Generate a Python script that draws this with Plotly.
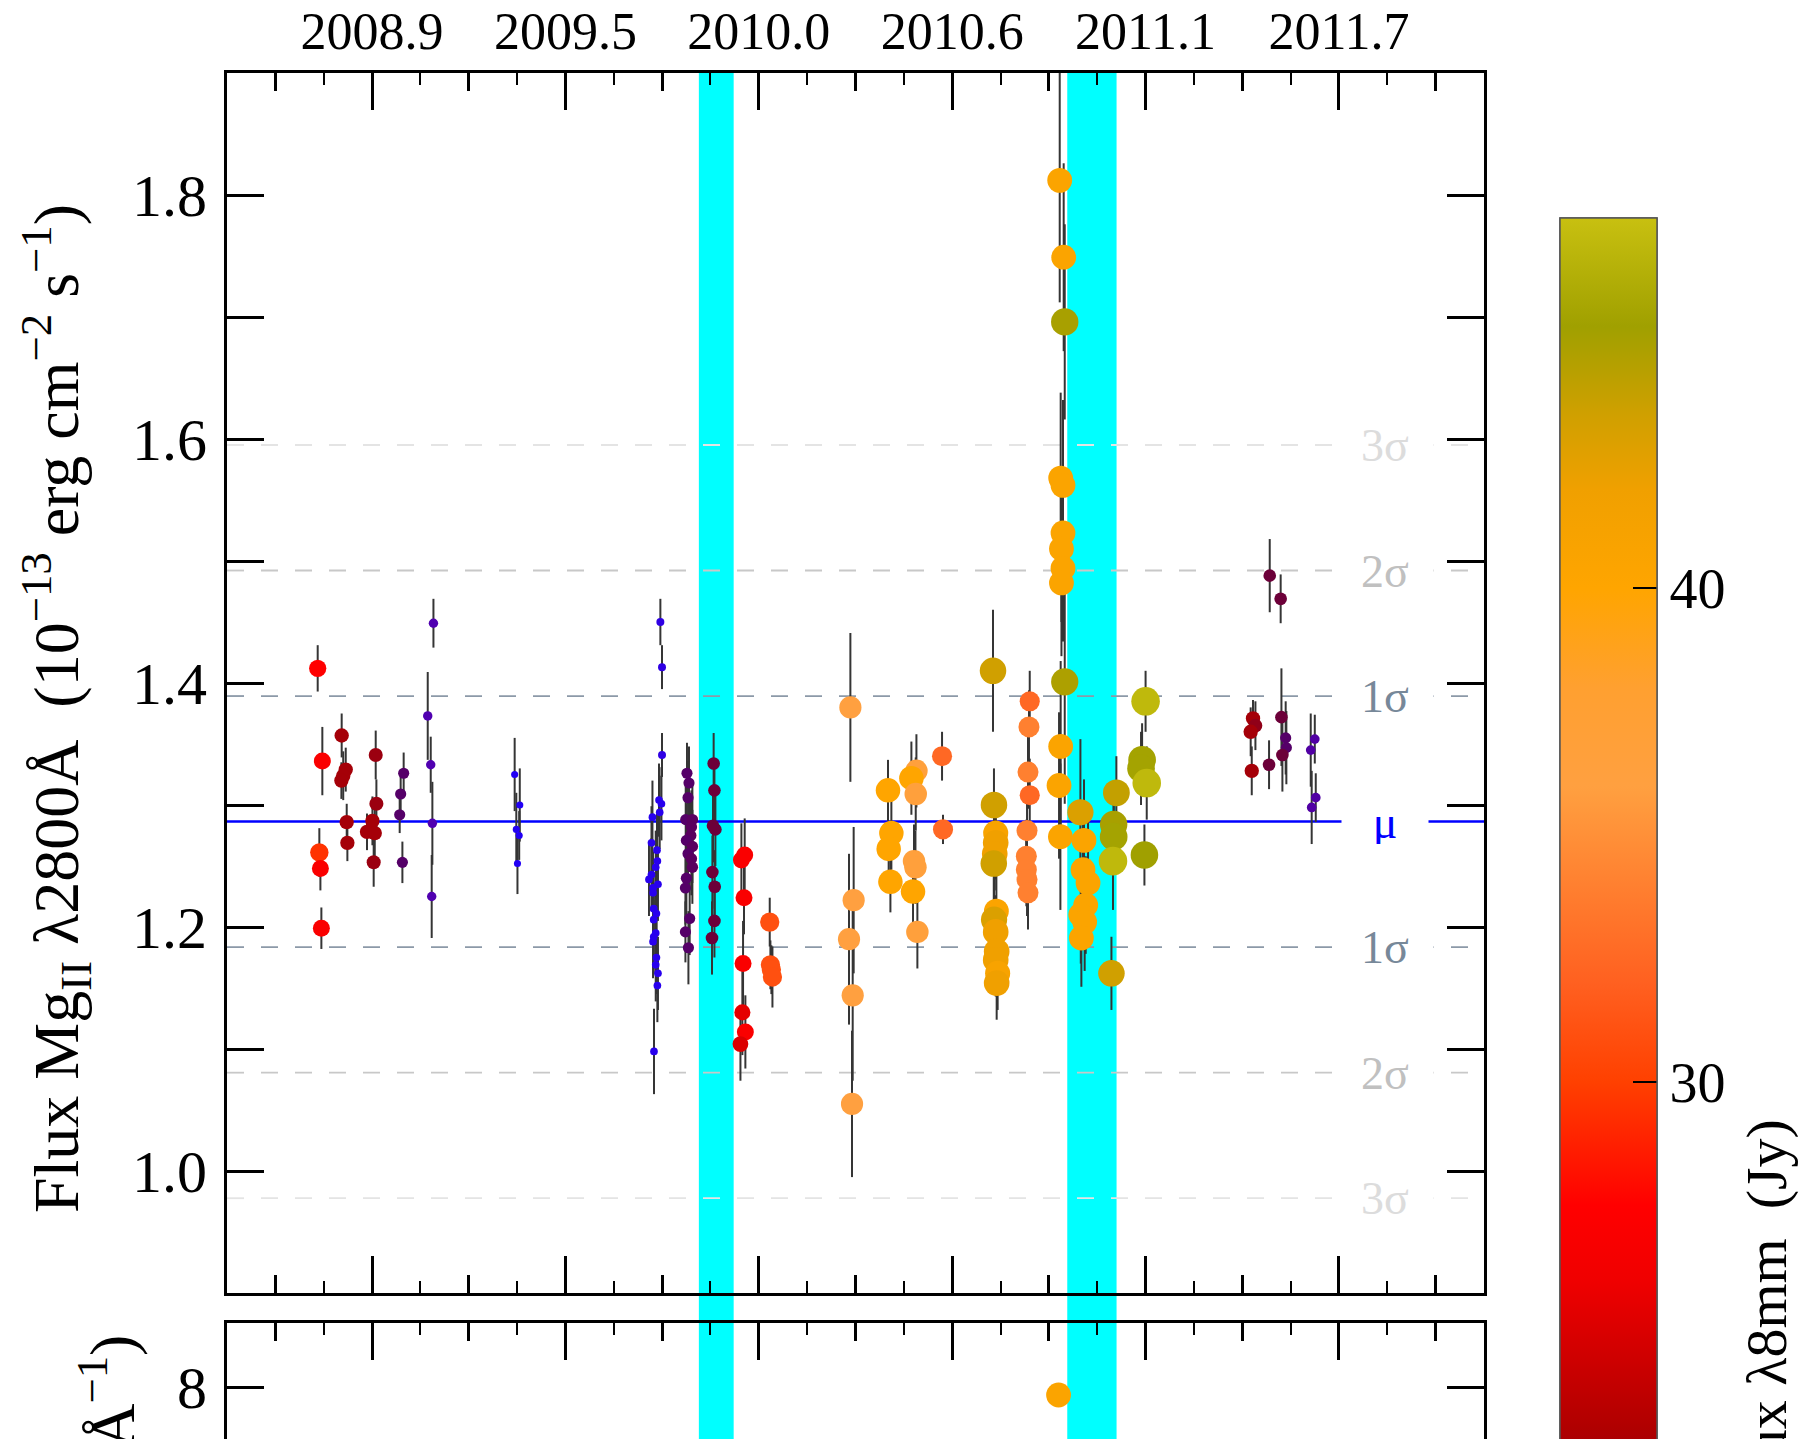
import plotly.graph_objects as go

SERIF = "Liberation Serif"

# ---------------------------------------------------------------- data
# Epoch of each spectrum, days after JD 2454000
t_days = [
    743.8, 748.6, 745.5, 746.6, 747.6,
    768.6, 772.8, 770.2, 768.3, 773.8, 774.5,
    803.8, 804.5, 800.4, 794.8, 802.8, 801.7,
    832.7, 829.6, 828.6, 831.4,
    863.5, 857.6, 860.7, 862.4, 861.7,
    947.5, 952.8, 949.2, 952.2, 950.4,
    1098.2, 1099.9, 1099.9, 1096.8, 1099.3, 1097.5, 1090.0, 1089.0, 1094.7,
    1095.1, 1093.4, 1089.0, 1086.4, 1095.7, 1090.6, 1090.6, 1091.3, 1094.1,
    1091.3, 1093.4, 1091.3, 1090.6, 1094.1, 1093.4, 1095.7, 1095.1, 1091.6,
    1125.7, 1127.8, 1126.8, 1124.4, 1131.3, 1130.3, 1129.6, 1125.1, 1131.3,
    1126.8, 1130.3, 1131.3, 1125.1, 1124.1, 1128.5, 1124.1, 1127.2,
    1153.3, 1154.1, 1152.6, 1155.1, 1152.0, 1154.4, 1154.1, 1151.6,
    1185.4, 1182.0, 1184.7, 1183.7, 1183.0, 1186.1, 1181.0,
    1211.3, 1212.0, 1213.0, 1214.1,
    1294.7, 1298.1, 1293.3, 1297.1, 1296.4,
    1333.6, 1337.1, 1334.3, 1336.1,
    1363.0, 1357.8, 1362.3, 1360.5, 1362.0, 1359.5, 1364.0,
    1389.5, 1390.5,
    1442.2, 1443.2, 1445.0, 1445.0, 1444.0, 1443.0, 1445.7, 1443.3, 1445.0,
    1446.0, 1445.0, 1447.0, 1446.0,
    1480.2, 1479.4, 1478.4, 1480.2, 1477.4, 1476.7, 1476.7, 1477.4, 1478.4,
    1511.2, 1515.3, 1516.4, 1512.2, 1514.6, 1514.6, 1513.0, 1514.6, 1513.0,
    1516.4, 1512.2, 1510.5, 1511.9,
    1532.6, 1536.3, 1535.3, 1540.5, 1538.1, 1533.0, 1537.0, 1533.6,
    1569.8, 1567.0, 1567.0, 1566.3, 1564.7,
    1600.0, 1596.4, 1595.3, 1601.2, 1598.8,
    1728.4, 1739.7, 1711.1, 1713.6, 1708.7, 1709.8, 1740.5, 1744.9, 1745.6,
    1741.5, 1727.7, 1775.0, 1770.8, 1776.0, 1771.8,
]

# Mg II 2800 line flux, 1e-13 erg cm^-2 s^-1
mg_flux = [
    1.412, 1.336, 1.261, 1.248, 1.199,
    1.357, 1.329, 1.324, 1.320, 1.286, 1.269,
    1.341, 1.301, 1.287, 1.278, 1.277, 1.253,
    1.326, 1.309, 1.292, 1.253,
    1.449, 1.373, 1.333, 1.285, 1.225,
    1.325, 1.300, 1.280, 1.275, 1.252,
    1.450, 1.413, 1.341, 1.304, 1.301, 1.294, 1.290, 1.269, 1.263,
    1.254, 1.249, 1.243, 1.239, 1.235, 1.232, 1.228, 1.215, 1.211,
    1.206, 1.195, 1.192, 1.188, 1.175, 1.169, 1.162, 1.152, 1.098,
    1.326, 1.318, 1.306, 1.288, 1.288, 1.282, 1.275, 1.271, 1.266,
    1.260, 1.256, 1.249, 1.240, 1.232, 1.207, 1.196, 1.183,
    1.334, 1.312, 1.283, 1.280, 1.245, 1.233, 1.205, 1.191,
    1.259, 1.255, 1.224, 1.170, 1.130, 1.114, 1.104,
    1.204, 1.169, 1.165, 1.159,
    1.380, 1.222, 1.190, 1.144, 1.055,
    1.312, 1.277, 1.264, 1.237,
    1.328, 1.322, 1.309, 1.254, 1.249, 1.229, 1.196,
    1.340, 1.280,
    1.410, 1.300, 1.277, 1.269, 1.260, 1.252, 1.213, 1.206, 1.196,
    1.180, 1.173, 1.162, 1.154,
    1.385, 1.364, 1.327, 1.308, 1.279, 1.258, 1.247, 1.239, 1.228,
    1.812, 1.749, 1.696, 1.568, 1.562, 1.523, 1.510, 1.494, 1.482,
    1.401, 1.348, 1.316, 1.274,
    1.294, 1.271, 1.247, 1.236, 1.218, 1.210, 1.204, 1.191,
    1.310, 1.284, 1.274, 1.254, 1.162,
    1.385, 1.337, 1.330, 1.318, 1.259,
    1.488, 1.469, 1.371, 1.365, 1.360, 1.328, 1.372, 1.355, 1.347,
    1.341, 1.333, 1.354, 1.345, 1.306, 1.298,
]

# 1-sigma uncertainty on the line flux
mg_err = [
    0.019, 0.028, 0.020, 0.018, 0.017,
    0.018, 0.018, 0.020, 0.015, 0.015, 0.015,
    0.020, 0.020, 0.020, 0.015, 0.020, 0.020,
    0.017, 0.015, 0.015, 0.017,
    0.020, 0.036, 0.023, 0.034, 0.034,
    0.030, 0.030, 0.030, 0.020, 0.025,
    0.019, 0.018, 0.018, 0.030, 0.030, 0.030, 0.030, 0.030, 0.030,
    0.030, 0.030, 0.030, 0.030, 0.030, 0.030, 0.030, 0.030, 0.030,
    0.030, 0.030, 0.030, 0.030, 0.030, 0.030, 0.030, 0.030, 0.035,
    0.025, 0.030, 0.030, 0.030, 0.030, 0.030, 0.030, 0.030, 0.030,
    0.030, 0.030, 0.030, 0.030, 0.030, 0.030, 0.025, 0.030,
    0.025, 0.025, 0.030, 0.030, 0.030, 0.030, 0.030, 0.030,
    0.030, 0.030, 0.030, 0.035, 0.035, 0.030, 0.030,
    0.020, 0.020, 0.020, 0.025,
    0.061, 0.060, 0.070, 0.070, 0.060,
    0.025, 0.030, 0.020, 0.025,
    0.030, 0.030, 0.030, 0.030, 0.030, 0.030, 0.030,
    0.020, 0.012,
    0.050, 0.030, 0.030, 0.030, 0.030, 0.030, 0.030, 0.030, 0.030,
    0.030, 0.030, 0.030, 0.030,
    0.025, 0.030, 0.030, 0.030, 0.030, 0.030, 0.030, 0.030, 0.030,
    0.100, 0.077, 0.080, 0.070, 0.070, 0.060, 0.060, 0.060, 0.060,
    0.100, 0.070, 0.060, 0.060,
    0.060, 0.050, 0.050, 0.050, 0.040, 0.040, 0.040, 0.040,
    0.030, 0.030, 0.030, 0.040, 0.030,
    0.025, 0.030, 0.030, 0.030, 0.025,
    0.030, 0.020, 0.015, 0.020, 0.020, 0.020, 0.040, 0.030, 0.030,
    0.030, 0.020, 0.020, 0.030, 0.020, 0.030,
]

# Simultaneous 8 mm (37 GHz) radio flux density, Jy
radio_jy = [
    27.5, 27.0, 29.5, 27.0, 27.0,
    22.5, 22.5, 22.5, 22.5, 22.5, 22.5,
    22.0, 22.0, 22.5, 22.5, 22.5, 22.0,
    17.0, 17.0, 17.0, 17.0,
    14.0, 14.0, 14.0, 14.0, 14.0,
    10.0, 10.0, 10.0, 10.0, 10.0,
    11.5, 11.5, 11.5, 11.0, 11.0, 11.0, 11.0, 11.0, 11.0,
    11.0, 11.0, 11.0, 11.0, 11.0, 11.0, 11.0, 11.0, 11.0,
    11.0, 11.0, 11.0, 11.0, 11.0, 11.0, 11.0, 11.0, 11.0,
    17.0, 17.0, 17.0, 17.0, 17.5, 17.5, 17.5, 17.0, 17.5,
    17.0, 17.5, 17.5, 17.0, 17.0, 17.0, 17.0, 17.0,
    19.5, 19.5, 19.5, 19.5, 19.5, 19.5, 19.5, 19.5,
    27.0, 27.0, 27.0, 27.0, 25.5, 27.0, 25.0,
    31.0, 31.0, 31.0, 31.0,
    36.0, 36.0, 36.0, 36.0, 36.0,
    40.0, 40.0, 40.0, 40.0,
    36.5, 40.0, 36.5, 36.5, 36.5, 40.0, 36.5,
    32.5, 32.5,
    43.5, 43.5, 41.0, 42.0, 42.0, 43.5, 40.5, 43.0, 42.0,
    42.0, 42.0, 41.0, 42.0,
    32.5, 34.0, 34.0, 32.5, 34.0, 34.0, 34.0, 34.0, 34.0,
    40.5, 40.5, 45.0, 40.5, 40.5, 40.5, 40.5, 40.5, 40.5,
    44.8, 40.5, 40.5, 40.5,
    43.0, 40.5, 40.5, 40.5, 40.5, 40.5, 40.5, 40.5,
    44.0, 45.0, 45.5, 47.0, 43.5,
    47.0, 45.5, 45.5, 47.0, 45.3,
    19.5, 19.5, 22.5, 21.5, 22.5, 22.5, 19.5, 17.0, 17.0,
    19.5, 19.5, 14.5, 14.5, 14.5, 14.5,
]

# Continuum flux density (lower panel)
cont_days = [1510.0]
cont_flux = [7.92]
cont_radio_jy = [40.5]

# Top axis: day ticks and their calendar-year labels
tick_days = [800, 1000, 1200, 1400, 1600, 1800]
tick_years = ["2008.9", "2009.5", "2010.0", "2010.6", "2011.1", "2011.7"]

# Gamma-ray flare windows (days)
flare_windows = [[1138, 1174], [1519, 1570]]

# Mean and dispersion of the Mg II light curve
mg_mean = 1.2864
mg_sigma = 0.1029

# ---------------------------------------------------------------- geometry
W, H = 1804, 1439
ML, MR, MT, MB = 227, 320, 73, 0
PW, PH = W - ML - MR, H - MT - MB
X_RANGE = [650, 1950]
Y_RANGE = [0.9, 1.9]
CONT_RANGE = [7.48, 8.64]
CMIN, CMAX = 8.0, 47.5
CB_PX_PER_JY = 49.4


def paper_x(pix):
    return (pix - ML) / PW


def paper_y(pix):
    return (H - MB - pix) / PH


# colour scale for the radio flux (Jy -> colour)
jy_stops = [8, 11, 14, 17, 20, 23, 26, 27.5, 30, 32, 34, 36, 38, 40, 42, 43.5, 45.3, 47.5]
stop_colors = ["#1500FF", "#2800EE", "#5000B0", "#550068", "#700030", "#B00000",
               "#F00000", "#FF0000", "#FF4000", "#FF6020", "#FF8030", "#FFA040",
               "#FFA030", "#FFA500", "#F0A000", "#D0A000", "#A0A000", "#C8C010"]
colorscale = [[(v - CMIN) / (CMAX - CMIN), c] for v, c in zip(jy_stops, stop_colors)]


def marker_size(jy):
    return 0.58 * jy + 1.3


cb_common = dict(
    x=paper_x(1560), xanchor="left", xpad=0,
    y=paper_y(218), yanchor="top", ypad=0,
    lenmode="pixels", len=(CMAX - CMIN) * CB_PX_PER_JY,
    thicknessmode="pixels", thickness=97,
    outlinewidth=1.5, outlinecolor="#555555",
    ticks="inside", tickwidth=2, tickcolor="black", tickmode="array",
)

fig = go.Figure()

# sigma bands around the mean
band_styles = {1: ("#8C99A8", "#778899"), 2: ("#C8C8C8", "#C0C0C0"), 3: ("#E4E4E4", "#DCDCDC")}
for k in [3, 2, 1, -1, -2, -3]:
    line_col, _ = band_styles[abs(k)]
    fig.add_trace(go.Scatter(
        x=X_RANGE, y=[mg_mean + k * mg_sigma] * 2, mode="lines",
        line=dict(color=line_col, width=1.8, dash="17px,17px"),
        hoverinfo="skip", showlegend=False, xaxis="x", yaxis="y"))

fig.add_trace(go.Scatter(
    x=X_RANGE, y=[mg_mean] * 2, mode="lines",
    line=dict(color="#0000FF", width=2.5),
    hoverinfo="skip", showlegend=False, xaxis="x", yaxis="y"))

# carriers for the intermediate x tick sets; the first also holds the
# colour bar's half-decade ticks (drawn beneath the labelled bar)
fig.add_trace(go.Scatter(
    x=[tick_days[0]], y=[mg_mean], mode="markers",
    marker=dict(color=[radio_jy[0]], colorscale=colorscale, cmin=CMIN, cmax=CMAX,
                opacity=0, showscale=True,
                colorbar=dict(**cb_common, tickvals=[25, 35, 45], ticklen=12,
                              showticklabels=False)),
    hoverinfo="skip", showlegend=False, xaxis="x3", yaxis="y"))
fig.add_trace(go.Scatter(x=[tick_days[0]], y=[cont_flux[0]], mode="markers",
                         marker=dict(opacity=0), hoverinfo="skip", showlegend=False,
                         xaxis="x4", yaxis="y2"))

# Mg II light curve coloured and sized by radio flux
fig.add_trace(go.Scatter(
    x=t_days, y=mg_flux, mode="markers",
    error_y=dict(type="data", array=mg_err, color="#353535", thickness=2, width=0),
    marker=dict(
        color=radio_jy, colorscale=colorscale, cmin=CMIN, cmax=CMAX,
        size=[marker_size(v) for v in radio_jy], line=dict(width=0), opacity=1,
        colorbar=dict(**cb_common, tickvals=[30, 40], ticklen=24,
                      tickfont=dict(family=SERIF, size=56, color="black")),
    ),
    hoverinfo="skip", showlegend=False, xaxis="x", yaxis="y"))

# continuum panel
fig.add_trace(go.Scatter(
    x=cont_days, y=cont_flux, mode="markers",
    marker=dict(color=cont_radio_jy, colorscale=colorscale, cmin=CMIN, cmax=CMAX,
                size=[marker_size(v) for v in cont_radio_jy], line=dict(width=0),
                opacity=1, showscale=False),
    hoverinfo="skip", showlegend=False, xaxis="x2", yaxis="y2"))

# tick sets: long at labelled days, medium halfway, short at quarters
mid_days = [d - 100 for d in tick_days] + [tick_days[-1] + 100]
quarter_days = [d for d in range(X_RANGE[0], X_RANGE[1] + 1, 50)
                if d not in tick_days and d not in mid_days]

axis_font = dict(family=SERIF, size=60, color="black")

base_x = dict(range=X_RANGE, showgrid=False, zeroline=False, ticks="inside",
              tickcolor="black", tickmode="array")

fig.update_layout(
    width=W, height=H,
    margin=dict(l=ML, r=MR, t=MT, b=MB, autoexpand=False),
    paper_bgcolor="white", plot_bgcolor="white",
    font=dict(family=SERIF, color="black"),
    xaxis=dict(**base_x, domain=[0, 1], anchor="y", side="top",
               tickvals=tick_days, ticktext=tick_years, ticklen=37, tickwidth=2.5,
               showline=True, linewidth=3, linecolor="black", mirror="allticks",
               tickfont=dict(family=SERIF, size=52, color="black"),
               ticklabelstandoff=0,
               minor=dict(tickmode="array", tickvals=quarter_days, ticks="inside",
                          ticklen=12, tickwidth=1.5, tickcolor="black")),
    xaxis3=dict(**base_x, overlaying="x", anchor="y", side="top",
                tickvals=mid_days, ticklen=18, tickwidth=2.5,
                showline=False, mirror="ticks", showticklabels=False),
    yaxis=dict(domain=[paper_y(1293), 1], range=Y_RANGE, showgrid=False, zeroline=False,
               ticks="inside", tickmode="array", tickvals=[1.0, 1.2, 1.4, 1.6, 1.8],
               tickformat=".1f", ticklen=37, tickwidth=2.5, tickcolor="black",
               showline=True, linewidth=3, linecolor="black", mirror="allticks",
               tickfont=axis_font, ticklabelstandoff=5,
               minor=dict(tickmode="array", tickvals=[1.1, 1.3, 1.5, 1.7], ticks="inside",
                          ticklen=19, tickwidth=2.5, tickcolor="black")),
    xaxis2=dict(**base_x, domain=[0, 1], anchor="y2", side="top",
                tickvals=tick_days, ticklen=37, tickwidth=2.5,
                showline=True, linewidth=3, linecolor="black", mirror=False,
                showticklabels=False,
                minor=dict(tickmode="array", tickvals=quarter_days, ticks="inside",
                           ticklen=12, tickwidth=1.5, tickcolor="black")),
    xaxis4=dict(**base_x, overlaying="x2", anchor="y2", side="top",
                tickvals=mid_days, ticklen=18, tickwidth=2.5,
                showline=False, showticklabels=False),
    yaxis2=dict(domain=[0, paper_y(1323)], range=CONT_RANGE, showgrid=False, zeroline=False,
                ticks="inside", tickmode="array", tickvals=[8], ticklen=37, tickwidth=2.5,
                tickcolor="black", showline=True, linewidth=3, linecolor="black",
                mirror="ticks", tickfont=axis_font, ticklabelstandoff=5),
)

# flare windows spanning both panels
for a, b in flare_windows:
    fig.add_shape(type="rect", xref="x", yref="paper", x0=a, x1=b, y0=0, y1=1,
                  fillcolor="#00FFFF", line=dict(width=0), layer="below")

# sigma / mean labels on the right
label_day = X_RANGE[0] + (1385 - ML) / PW * (X_RANGE[1] - X_RANGE[0])
for k in [3, 2, 1, -1, -2, -3]:
    _, txt_col = band_styles[abs(k)]
    fig.add_annotation(x=label_day, y=mg_mean + k * mg_sigma, xref="x", yref="y",
                       text=f"{abs(k)}σ", showarrow=False, bgcolor="white",
                       width=96, height=44, borderpad=0, align="center",
                       font=dict(family=SERIF, size=46, color=txt_col))
fig.add_annotation(x=label_day, y=mg_mean, xref="x", yref="y", text="μ",
                   showarrow=False, bgcolor="white", width=86, height=44, borderpad=0,
                   font=dict(family=SERIF, size=46, color="#0000FF"))

# axis titles
nb = "\u00a0"
fig.add_annotation(
    x=paper_x(56), y=paper_y(709), xref="paper", yref="paper",
    xanchor="center", yanchor="middle", textangle=-90, showarrow=False,
    text=f"Flux Mg<sub>II</sub> λ2800Å{nb}{nb}(10<sup>−13</sup> erg cm<sup>−2</sup> s<sup>−1</sup>)",
    font=dict(family=SERIF, size=64, color="black"))
fig.add_annotation(
    x=paper_x(112), y=paper_y(1333), xref="paper", yref="paper",
    xanchor="center", yanchor="top", textangle=-90, showarrow=False,
    text=f"F<sub>λ</sub>{nb}{nb}(10<sup>−15</sup> erg cm<sup>−2</sup> s<sup>−1</sup> Å<sup>−1</sup>)",
    font=dict(family=SERIF, size=64, color="black"))
fig.add_annotation(
    x=paper_x(1766), y=paper_y(1118), xref="paper", yref="paper",
    xanchor="center", yanchor="top", textangle=-90, showarrow=False,
    text=f"Flux λ8mm{nb}{nb}(Jy)",
    font=dict(family=SERIF, size=58, color="black"))

fig.write_html("out.html")
